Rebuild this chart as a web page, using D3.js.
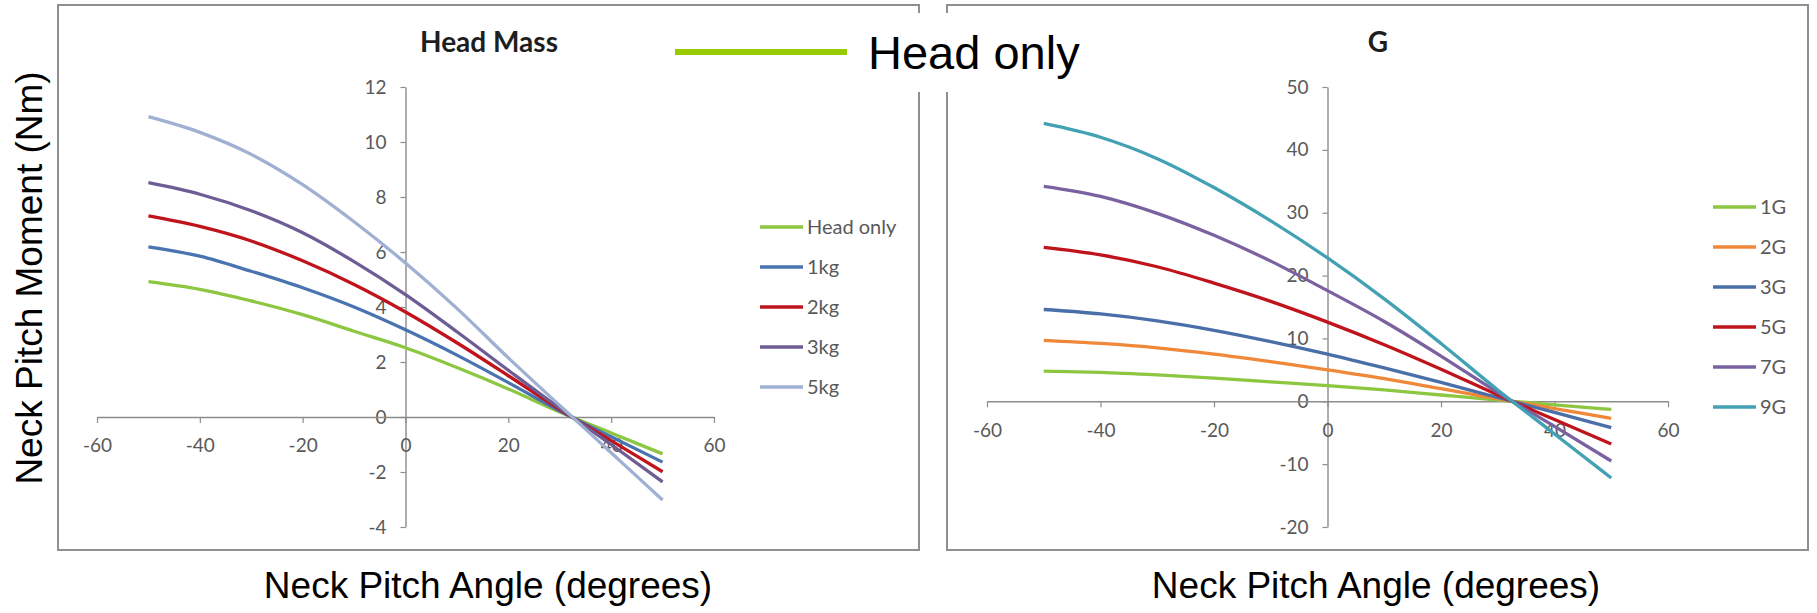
<!DOCTYPE html>
<html>
<head>
<meta charset="utf-8">
<script src="https://cdn.jsdelivr.net/npm/d3@7"></script>
<style>
    body { margin: 0; background: #fff; }
    svg { display: block; }
    .tick text { font-family: Lato, "Open Sans", sans-serif; fill: #595959; }
    .big { font-family: "Liberation Sans", Arial, sans-serif; fill: #000; }
</style>
</head>
<body>
<div id="chart"></div>
<script>
const width = 1817;
const height = 613;

// angles (degrees)
const angles = [-50, -40, -30, -20, -10, 0, 10, 20, 30, 40, 50];

// left panel: head mass
const massNames = ["Head only", "1kg", "2kg", "3kg", "5kg"];
const massColors = ["#8dc641", "#4a74b0", "#c0141c", "#6e5c94", "#9fb0d2"];
const headOnly = [4.92, 4.64, 4.22, 3.72, 3.12, 2.52, 1.80, 1.02, 0.18, -0.58, -1.34];
const mass1kg = [6.19, 5.85, 5.30, 4.70, 4.00, 3.17, 2.25, 1.25, 0.22, -0.72, -1.64];
const mass2kg = [7.31, 6.93, 6.40, 5.68, 4.82, 3.82, 2.70, 1.50, 0.27, -0.86, -1.99];
const mass3kg = [8.52, 8.10, 7.50, 6.70, 5.65, 4.45, 3.10, 1.70, 0.32, -1.00, -2.36];
const mass5kg = [10.92, 10.35, 9.55, 8.45, 7.10, 5.60, 3.95, 2.15, 0.42, -1.30, -3.02];
const massTicksY = [-4, -2, 0, 2, 4, 6, 8, 10, 12];

// right panel: G load
const gNames = ["1G", "2G", "3G", "5G", "7G", "9G"];
const gColors = ["#8dc641", "#f0883a", "#4a6fa8", "#c0141c", "#7a62a0", "#43a1b4"];
const g1 = [4.8, 4.6, 4.2, 3.7, 3.1, 2.5, 1.8, 1.0, 0.2, -0.57, -1.3];
const g2 = [9.7, 9.2, 8.5, 7.5, 6.3, 5.0, 3.6, 2.0, 0.4, -1.15, -2.7];
const g3 = [14.6, 13.9, 12.8, 11.3, 9.5, 7.5, 5.3, 3.0, 0.6, -1.75, -4.2];
const g5 = [24.5, 23.3, 21.4, 18.8, 15.9, 12.6, 9.0, 5.1, 1.0, -2.9, -6.8];
const g7 = [34.2, 32.6, 29.9, 26.4, 22.3, 17.6, 12.7, 7.2, 1.4, -4.0, -9.5];
const g9 = [44.2, 42.0, 38.6, 34.0, 28.7, 22.8, 16.3, 9.2, 1.8, -5.2, -12.2];
const gTicksY = [-20, -10, 0, 10, 20, 30, 40, 50];

const xTicks = [-60, -40, -20, 0, 20, 40, 60];

const svg = d3.select("#chart")
    .append("svg")
    .attr("width", width)
    .attr("height", height);

function drawPanel(p) {
    const g = svg.append("g");

    g.append("rect")
        .attr("x", p.box[0]).attr("y", p.box[1])
        .attr("width", p.box[2]).attr("height", p.box[3])
        .attr("fill", "#fff")
        .attr("stroke", "#8f8f8f")
        .attr("stroke-width", 2);

    const x = d3.scaleLinear().domain([-60, 60]).range(p.xRange);
    const y = d3.scaleLinear().domain(p.yDomain).range([527, 87]);

    g.append("text")
        .attr("x", p.titleX).attr("y", 52)
        .attr("text-anchor", "middle")
        .style("font-family", "Lato, sans-serif")
        .style("font-weight", "bold")
        .style("font-size", "28px")
        .attr("fill", "#1e1e1e")
        .text(p.title);

    const yAxis = g.append("g")
        .attr("transform", `translate(${x(0)},0)`)
        .call(d3.axisLeft(y).tickValues(p.yTicks).tickSize(5).tickSizeOuter(0)
            .tickPadding(14).tickFormat(d => String(d)));

    const xAxis = g.append("g")
        .attr("transform", `translate(0,${y(0)})`)
        .call(d3.axisBottom(x).tickValues(xTicks).tickSize(6).tickSizeOuter(0)
            .tickPadding(16).tickFormat(d => String(d)));

    [yAxis, xAxis].forEach(a => {
        a.select(".domain").attr("stroke", "#8c8c8c").attr("stroke-width", 1.4);
        a.selectAll(".tick line").attr("stroke", "#8c8c8c").attr("stroke-width", 1.2);
        a.selectAll(".tick text").style("font-size", "19px");
    });

    const line = d3.line()
        .x((d, i) => x(angles[i]))
        .y(d => y(d))
        .curve(d3.curveMonotoneX);

    p.series.forEach((s, i) => {
        g.append("path")
            .datum(s)
            .attr("fill", "none")
            .attr("stroke", p.colors[i])
            .attr("stroke-width", 3.3)
            .attr("d", line);
    });

    const legend = g.selectAll(".legend")
        .data(p.names)
        .enter()
        .append("g")
        .attr("transform", (d, i) => `translate(${p.legendX},${p.legendY + i * 40})`);

    legend.append("line")
        .attr("x1", 0).attr("x2", 43)
        .attr("stroke", (d, i) => p.colors[i])
        .attr("stroke-width", 3.5);

    legend.append("text")
        .attr("x", 47).attr("dy", "0.35em")
        .style("font-family", "Lato, sans-serif")
        .style("font-size", "20px")
        .attr("fill", "#595959")
        .text(d => d);
}

drawPanel({
    box: [58, 5, 861, 545],
    xRange: [97, 714],
    yDomain: [-4, 12],
    yTicks: massTicksY,
    title: "Head Mass",
    titleX: 489,
    series: [headOnly, mass1kg, mass2kg, mass3kg, mass5kg],
    names: massNames,
    colors: massColors,
    legendX: 760,
    legendY: 227
});

drawPanel({
    box: [947, 5, 861, 545],
    xRange: [987, 1668],
    yDomain: [-20, 50],
    yTicks: gTicksY,
    title: "G",
    titleX: 1378,
    series: [g1, g2, g3, g5, g7, g9],
    names: gNames,
    colors: gColors,
    legendX: 1713,
    legendY: 207
});

// slide annotation pasted over the charts
svg.append("rect")
    .attr("x", 668).attr("y", 13)
    .attr("width", 422).attr("height", 79)
    .attr("fill", "#fff");

svg.append("line")
    .attr("x1", 675).attr("x2", 847)
    .attr("y1", 52).attr("y2", 52)
    .attr("stroke", "#99cc00")
    .attr("stroke-width", 6);

svg.append("text")
    .attr("class", "big")
    .attr("x", 868).attr("y", 69)
    .style("font-size", "47px")
    .text("Head only");

// axis titles
svg.append("text")
    .attr("class", "big")
    .attr("transform", "translate(42,278) rotate(-90)")
    .attr("text-anchor", "middle")
    .style("font-size", "37px")
    .text("Neck Pitch Moment (Nm)");

svg.append("text")
    .attr("class", "big")
    .attr("x", 488).attr("y", 598)
    .attr("text-anchor", "middle")
    .style("font-size", "37px")
    .text("Neck Pitch Angle (degrees)");

svg.append("text")
    .attr("class", "big")
    .attr("x", 1376).attr("y", 598)
    .attr("text-anchor", "middle")
    .style("font-size", "37px")
    .text("Neck Pitch Angle (degrees)");
</script>
</body>
</html>
